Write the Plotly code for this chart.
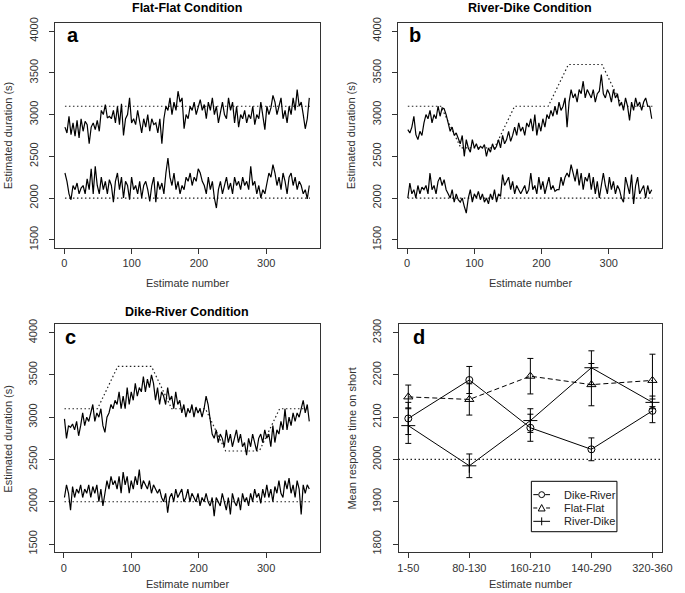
import plotly.graph_objects as go

FONT = "Liberation Sans, Arial, Helvetica, sans-serif"

# ---------------- data ----------------
est = list(range(1, 366, 3))  # estimate numbers (122 samples)

# target (true) durations, piecewise: flat segments 1-50, 80-130, 160-210, 240-290, 320-365
tgt_x = [1, 50, 80, 130, 160, 210, 240, 290, 320, 365]
tgt_short = [2000] * 10
tgt_ff_long = [3100] * 10
tgt_rd_long = [3100, 3100, 2600, 2600, 3100, 3100, 3600, 3600, 3100, 3100]
tgt_dr_long = [3100, 3100, 3600, 3600, 3100, 3100, 2600, 2600, 3100, 3100]

ff_long = [
    2850, 2780, 2980, 2760, 2900, 2740, 2930, 2720, 2950, 2800,
    2920, 2880, 2650, 2850, 2900, 2820, 2930, 2800, 3050, 3000,
    3120, 2960, 2980, 2950, 3050, 2900, 3100, 2880, 3130, 2750,
    2950, 3000, 3200, 2900, 2950, 2880, 3050, 2920, 2780, 2950,
    2850, 3000, 2800, 2950, 2880, 2900, 2780, 2950, 2650, 2950,
    3100, 3050, 3200, 3000, 3150, 3050, 3280, 3150, 3200, 2830,
    3000, 2950, 3100, 3050, 3150, 3000, 3100, 3180, 3050, 3120,
    2950, 3150, 3050, 3200, 3000, 3100, 2900, 3050, 3150, 3000,
    2950, 3200, 3050, 3150, 2900, 3100, 2850, 3000, 2950, 3050,
    2900, 3000, 2950, 3100, 2880, 3000, 2950, 3150, 2950, 2820,
    3100, 3000, 3080, 3230, 3150, 3000, 3100, 3200, 2950, 3050,
    2900, 3100, 3000, 3200, 3050, 3300, 3100, 3150, 3000, 2830,
    2950, 3200,
]
ff_short = [
    2300, 2200, 2050, 1980, 2150, 2100, 2180, 2050, 2120, 2150,
    2050, 2230, 2100, 2350, 2050, 2380, 2150, 2050, 2250, 2100,
    2200, 2050, 2220, 2150, 1950, 2200, 2300, 2100, 2250, 2000,
    2200, 2150, 1980, 2250, 2100, 2150, 2050, 2200, 2000, 2150,
    2200, 2100, 1960, 2150, 2250, 1950, 2200, 2100, 2180, 2050,
    2300, 2480, 2250, 2150, 2300, 2100, 2200, 2050, 2150, 2100,
    2250, 2200, 2300, 2150, 2250, 2200, 2350, 2300, 2200, 2150,
    2050, 2250, 2100, 2200, 2000, 1880, 2100, 2200, 2050, 2150,
    2250, 2100, 2180, 2050, 2250, 2150, 2200, 2100, 2250, 2150,
    2200, 2100, 2380, 2150, 2200, 2050, 2150, 2000, 2100, 2050,
    2200, 2300, 2250, 2400, 2300, 2150, 2250, 2100, 2300, 2200,
    2050, 2250, 2300, 2150, 2250, 2100, 2200, 2150, 2050, 2100,
    1990, 2150,
]
rd_long = [
    2820, 2780, 2850, 2980, 2760, 2700, 2800, 2750, 2900, 3000,
    2950, 3050, 2900, 3000, 2950, 3100, 2980, 3080, 3070, 3000,
    2900, 2800, 2850, 2750, 2780, 2700, 2650, 2750, 2500, 2700,
    2600, 2550, 2700, 2600, 2650, 2580, 2620, 2600, 2640, 2500,
    2600, 2550, 2650, 2580, 2620, 2700, 2600, 2750, 2650, 2700,
    2800, 2680, 2750, 2850, 2750, 2900, 2800, 2850, 2750, 2900,
    2850, 2950, 2800, 3000, 2750, 2900, 2800, 2950, 2850, 3000,
    2950, 3050, 2980, 3100, 3000, 3150, 3050, 3100, 3200, 2850,
    3150, 3300, 3200, 3250, 3150, 3300, 3250, 3400, 3200, 3300,
    3250, 3200, 3300, 3150, 3250, 3280, 3480, 3250, 3200, 3300,
    3250, 3150, 3300, 3200, 3250, 3100, 3150, 3050, 3200, 3100,
    2930, 3150, 3050, 3200, 3100, 3150, 3050, 3150, 3200, 3100,
    3100, 2950,
]
rd_short = [
    2000, 2180, 2050, 2100, 2000, 2150, 2050, 2130, 2100, 2150,
    2050, 2300, 2100, 2150, 2050, 2200, 2250, 2150, 2220, 2100,
    2050, 2000, 2100, 1950, 2050, 1980, 1950, 2000, 1900, 1820,
    2000, 2100, 1950, 2050, 2000, 2080, 1980, 2050, 1950, 2000,
    1930, 2050, 1980, 2100, 1950, 2050, 2020, 2280, 2150, 2200,
    2250, 2100, 2200, 2050, 2150, 2100, 2050, 2100, 2150, 2050,
    2100, 2300, 2100, 2150, 2050, 2250, 2100, 2200, 2050, 2150,
    2250, 2100, 2150, 2080, 2100, 2100, 2250, 2150, 2250, 2300,
    2250, 2400, 2300, 2200, 2350, 2150, 2300, 2100, 2250, 2200,
    2300, 2100, 2250, 2050, 2200, 2000, 2150, 2300, 2150, 2050,
    2250, 2100, 2200, 2050, 2150, 2100, 2000, 1950, 2250, 2150,
    2050, 2280, 1930, 2150, 2250, 2050, 2100, 2150, 2000, 2150,
    2050, 2100,
]
dr_long = [
    2980, 2750, 2900, 2880, 2920, 2850, 2950, 2780, 2900, 3050,
    2900, 3000, 2950, 3050, 3150, 2950, 3050, 3000, 3100, 2900,
    2820, 3000, 3050, 3150, 3100, 3200, 3150, 3300, 3100, 3250,
    3100, 3350, 3150, 3300, 3200, 3400, 3250, 3350, 3300, 3480,
    3300, 3450, 3350, 3500, 3400, 3200, 3350, 3150, 3300, 3250,
    3150, 3350, 3200, 3250, 3100, 3300, 3150, 3200, 3050, 3150,
    3000, 3100, 3050, 3150, 3000, 3120, 3050, 3100, 3000, 3100,
    3250, 3150, 2950, 2800, 2750, 2850, 2700, 2800, 2750, 2650,
    2850, 2700, 2800, 2650, 2750, 2850, 2700, 2800, 2650, 2700,
    2550, 2750, 2650, 2800, 2700, 2600, 2750, 2800, 2700, 2850,
    2750, 2800, 2650, 2900, 2700, 2850, 2800, 2950, 2850, 3100,
    2850, 3000, 2900, 3050, 2950, 3050, 3000, 3100, 3200, 3050,
    3150, 2950,
]
dr_short = [
    2050, 2200, 2100, 1900, 2180, 2050, 2150, 2100, 2200, 2050,
    2150, 2100, 2200, 2050, 2180, 2100, 2200, 2000, 2150, 1950,
    2100, 2250, 2150, 2300, 2200, 2250, 2150, 2300, 2100, 2350,
    2200, 2300, 2100, 2250, 2150, 2300, 2200, 2380, 2150, 2250,
    2200, 2150, 2250, 2100, 2200, 2150, 2100, 2150, 2050, 2000,
    2100, 1870, 2050, 2100, 2000, 2150, 2050, 2100, 2150, 2000,
    2050, 2150, 2000, 2100, 2050, 2000, 2100, 1950, 2050, 2000,
    2100, 2000, 1950, 2050, 1830, 2050, 2000, 1950, 2100, 2000,
    1900, 2050, 1850, 2100, 2000, 1950, 2050, 1900, 2100, 2000,
    2050, 1950, 2100, 2000, 2150, 2050, 2100, 1980, 2150, 2050,
    2200, 2050, 2150, 2000, 2180, 2100, 2250, 2100, 2050, 2250,
    2150, 2280, 2100, 2200, 2050, 2250, 2150, 1850, 2200, 2100,
    2200, 2150,
]

# panel d: mean response time on short
groups = ["1-50", "80-130", "160-210", "140-290", "320-360"]
group_pos = [1, 2, 3, 4, 5]
dr_mean = [2097, 2188, 2075, 2024, 2115]
dr_err = [38, 32, 32, 27, 28]
ff_mean = [2148, 2142, 2197, 2177, 2187]
ff_err = [28, 37, 42, 50, 62]
rd_mean = [2080, 1985, 2092, 2217, 2135]
rd_err = [42, 28, 28, 40, 15]
REF_LEVEL = 2000
legend_names = ["Dike-River", "Flat-Flat", "River-Dike"]

# ---------------- layout helpers ----------------
W, H = 685, 593
def fx(p):
    return p / W
def fy(p):
    return 1 - p / H

box = {
    "a": (55, 324, 18, 246),
    "b": (403.5, 672, 18, 246),
    "c": (54.5, 324, 323, 554),
    "d": (404, 672, 323, 554),
}

fig = go.Figure()
LINE = dict(color="black", width=1.2)
DOT = dict(color="#222", width=1.2, dash="1.5px,2.5px")

def add_ts(long_vals, short_vals, tgt_long, ax):
    xa, ya = "x" + ax, "y" + ax
    fig.add_trace(go.Scatter(x=tgt_x, y=tgt_long, mode="lines", line=DOT, xaxis=xa, yaxis=ya, showlegend=False, hoverinfo="skip"))
    fig.add_trace(go.Scatter(x=tgt_x, y=tgt_short, mode="lines", line=DOT, xaxis=xa, yaxis=ya, showlegend=False, hoverinfo="skip"))
    fig.add_trace(go.Scatter(x=est[:len(long_vals)], y=long_vals, mode="lines", line=LINE, xaxis=xa, yaxis=ya, showlegend=False))
    fig.add_trace(go.Scatter(x=est[:len(short_vals)], y=short_vals, mode="lines", line=LINE, xaxis=xa, yaxis=ya, showlegend=False))

add_ts(ff_long, ff_short, tgt_ff_long, "")
add_ts(rd_long, rd_short, tgt_rd_long, "2")
add_ts(dr_long, dr_short, tgt_dr_long, "3")

def err(a):
    return dict(type="data", array=a, visible=True, color="black", thickness=1, width=3)

fig.add_trace(go.Scatter(x=group_pos, y=dr_mean, error_y=err(dr_err), mode="lines+markers", name=legend_names[0],
                         line=dict(color="black", width=1), marker=dict(symbol="circle-open", size=7, color="black", line=dict(width=1)),
                         xaxis="x4", yaxis="y4", showlegend=False))
fig.add_trace(go.Scatter(x=group_pos, y=ff_mean, error_y=err(ff_err), mode="lines+markers", name=legend_names[1],
                         line=dict(color="black", width=1, dash="5px,3px"), marker=dict(symbol="triangle-up-open", size=8, color="black", line=dict(width=1)),
                         xaxis="x4", yaxis="y4", showlegend=False))
fig.add_trace(go.Scatter(x=group_pos, y=rd_mean, error_y=err(rd_err), mode="lines+markers", name=legend_names[2],
                         line=dict(color="black", width=1), marker=dict(symbol="cross-thin-open", size=10, color="black", line=dict(width=1)),
                         xaxis="x4", yaxis="y4", showlegend=False))

tickfont = dict(family=FONT, size=11, color="#333")
ax_common = dict(showline=True, mirror=True, linecolor="#333", linewidth=1, ticks="outside", ticklen=5,
                 tickcolor="#333", tickwidth=1, showgrid=False, zeroline=False, tickfont=tickfont)

layout = {}
ts_yticks = [1500, 2000, 2500, 3000, 3500, 4000]
for key, suf in [("a", ""), ("b", "2"), ("c", "3")]:
    x0, x1, y0, y1 = box[key]
    layout["xaxis" + suf] = dict(domain=[fx(x0), fx(x1)], range=[-13.6, 379.6], anchor="y" + suf,
                                 tickvals=[0, 100, 200, 300], ticklabelstandoff=0, **ax_common)
    layout["yaxis" + suf] = dict(domain=[fy(y1), fy(y0)], range=[1400, 4100], anchor="x" + suf,
                                 tickvals=ts_yticks, tickangle=-90, ticklabelstandoff=7, **ax_common)
x0, x1, y0, y1 = box["d"]
layout["xaxis4"] = dict(domain=[fx(x0), fx(x1)], range=[0.84, 5.16], anchor="y4",
                        tickvals=group_pos, ticktext=groups, ticklabelstandoff=0, **ax_common)
layout["yaxis4"] = dict(domain=[fy(y1), fy(y0)], range=[1780, 2320], anchor="x4",
                        tickvals=[1800, 1900, 2000, 2100, 2200, 2300], tickangle=-90, ticklabelstandoff=7, **ax_common)

fig.update_layout(**layout)

ann = []
def text(x, y, s, size=11, bold=False, angle=0, color="#333", xa="center", ya="middle"):
    ann.append(dict(x=fx(x), y=fy(y), xref="paper", yref="paper", text=("<b>%s</b>" % s if bold else s),
                    showarrow=False, textangle=angle, xanchor=xa, yanchor=ya,
                    font=dict(family=FONT, size=size, color=color)))

# titles
text(189.5, 3, "Flat-Flat Condition", size=12.5, bold=True, color="black")
text(538, 3, "River-Dike Condition", size=12.5, bold=True, color="black")
text(189.5, 311, "Dike-River Condition", size=12.5, bold=True, color="black")
# panel letters
text(73, 30, "a", size=20, bold=True, color="black")
text(421, 30, "b", size=20, bold=True, color="black")
text(71, 336, "c", size=20, bold=True, color="black")
text(425, 336, "d", size=20, bold=True, color="black")
# axis titles
for key in "abcd":
    bx0, bx1, by0, by1 = box[key]
    cx = (bx0 + bx1) / 2
    cy = (by0 + by1) / 2
    text(cx, by1 + (35 if key in "ab" else 32), "Estimate number")
    text(bx0 - 47, cy, "Mean response time on short" if key == "d" else "Estimated duration (s)", angle=-90)

# reference line in panel d
shapes = [dict(type="line", xref="x4 domain", x0=0, x1=1, yref="y4", y0=REF_LEVEL, y1=REF_LEVEL,
               line=dict(color="#222", width=1.2, dash="1.5px,2.5px"))]

# ---- hand-drawn legend box (R style) ----
LX0, LX1, LY0, LY1 = 539, 626, 482, 533
shapes.append(dict(type="rect", xref="paper", yref="paper", x0=fx(LX0), x1=fx(LX1), y0=fy(LY1), y1=fy(LY0),
                   line=dict(color="black", width=1), fillcolor="white", layer="above"))
rows = [495.5, 509, 522.5]
sx0, sx1, sc = 541, 558, 549.5
PL = dict(color="black", width=1)
# Dike-River: line with open circle
r = rows[0]
shapes.append(dict(type="line", xref="paper", yref="paper", x0=fx(sx0), x1=fx(sc - 3.5), y0=fy(r), y1=fy(r), line=PL, layer="above"))
shapes.append(dict(type="line", xref="paper", yref="paper", x0=fx(sc + 3.5), x1=fx(sx1), y0=fy(r), y1=fy(r), line=PL, layer="above"))
shapes.append(dict(type="circle", xref="paper", yref="paper", x0=fx(sc - 3), x1=fx(sc + 3), y0=fy(r + 3), y1=fy(r - 3), line=PL, layer="above"))
# Flat-Flat: dashes with open triangle
r = rows[1]
shapes.append(dict(type="line", xref="paper", yref="paper", x0=fx(sx0), x1=fx(sx0 + 4), y0=fy(r), y1=fy(r), line=PL, layer="above"))
shapes.append(dict(type="line", xref="paper", yref="paper", x0=fx(sx1 - 4), x1=fx(sx1), y0=fy(r), y1=fy(r), line=PL, layer="above"))
tri = "M %f %f L %f %f L %f %f Z" % (fx(sc - 3.5), fy(r + 3), fx(sc + 3.5), fy(r + 3), fx(sc), fy(r - 3.5))
shapes.append(dict(type="path", xref="paper", yref="paper", path=tri, line=PL, layer="above"))
# River-Dike: solid line with vertical tick (+)
r = rows[2]
shapes.append(dict(type="line", xref="paper", yref="paper", x0=fx(sx0), x1=fx(sx1), y0=fy(r), y1=fy(r), line=PL, layer="above"))
shapes.append(dict(type="line", xref="paper", yref="paper", x0=fx(sc), x1=fx(sc), y0=fy(r + 4), y1=fy(r - 4), line=PL, layer="above"))
for name, r in zip(legend_names, rows):
    text(570, r, name, size=11, color="#222", xa="left")

fig.update_layout(
    width=W, height=H, margin=dict(l=0, r=0, t=0, b=0),
    paper_bgcolor="white", plot_bgcolor="white",
    annotations=ann, shapes=shapes,
    showlegend=False,
    font=dict(family=FONT),
)

fig.write_html(
    "out.html",
    config={"displayModeBar": False},
    post_script="document.body.style.margin='0';document.body.style.padding='0';document.body.style.overflow='hidden';",
)
